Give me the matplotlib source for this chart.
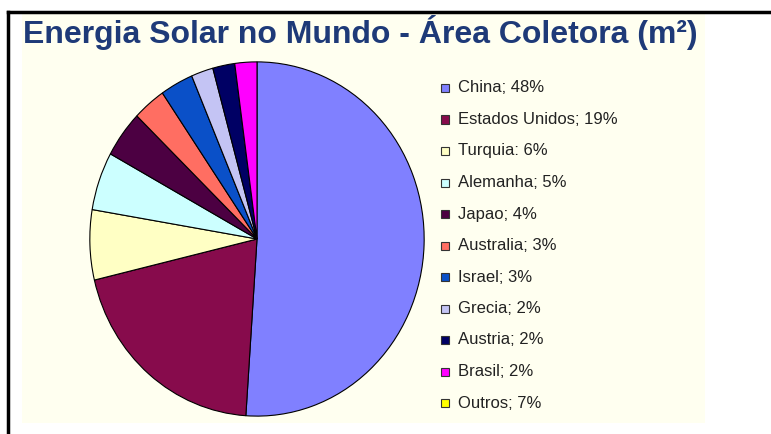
import matplotlib.pyplot as plt
from matplotlib.patches import Rectangle
from matplotlib.lines import Line2D

# data
countries = ['China', 'Estados Unidos', 'Turquia', 'Alemanha', 'Japao',
             'Australia', 'Israel', 'Grecia', 'Austria', 'Brasil', 'Outros']
shares = [48, 19, 6, 5, 4, 3, 3, 2, 2, 2, 7]
separators = [';', ';', ':', ';', ';', ';', ';', ';', ';', ';', ';']
colors = ['#8080FF', '#870B4C', '#FFFFC4', '#CCFFFF', '#4C0042', '#FF6E62',
          '#0A50C8', '#C4C4F4', '#000064', '#FF00FF', '#FFFF00']

W, H = 771, 434
fig = plt.figure(figsize=(W / 100, H / 100), dpi=100)
fig.patch.set_facecolor('white')

def fx(px):
    return px / W

def fy(py):
    return 1 - py / H

# cream chart area
fig.patches.append(Rectangle((fx(22), fy(423)), fx(705) - fx(22), fy(14) - fy(423),
                             transform=fig.transFigure, facecolor='#FFFFF0',
                             edgecolor='none', zorder=-5))
# black frame (top and left only)
fig.add_artist(Line2D([fx(8), fx(771)], [fy(12), fy(12)], color='black', lw=2.5))
fig.add_artist(Line2D([fx(8), fx(8)], [fy(12), fy(434)], color='black', lw=2.5))

fig.text(fx(23), fy(43), 'Energia Solar no Mundo - Área Coletora (m²)',
         fontsize=23, fontweight='bold', color='#1E3A78',
         family='Liberation Sans', va='baseline', ha='left')

# pie: the "Outros" share is listed in the legend but not drawn in the pie
cx, cy, rx, ry = 257, 239, 168, 178
ax = fig.add_axes([fx(cx - rx), fy(cy + ry), (2 * rx) / W, (2 * ry) / H])
ax.set_zorder(2)
ax.pie(shares[:-1], colors=colors[:-1], startangle=90, counterclock=False,
       wedgeprops=dict(edgecolor='black', linewidth=0.8))
ax.set_aspect('auto')
ax.set_xlim(-1.005, 1.005)
ax.set_ylim(-1.005, 1.005)
ax.axis('off')

# legend
y0, dy = 88, 31.5
for i, (name, val, sep, col) in enumerate(zip(countries, shares, separators, colors)):
    y = y0 + i * dy
    fig.patches.append(Rectangle((fx(441), fy(y + 4)), 8 / W, 8 / H,
                                 transform=fig.transFigure, facecolor=col,
                                 edgecolor='#333333', lw=0.8))
    fig.text(fx(458), fy(y), f'{name}{sep} {val}%', fontsize=12,
             family='Liberation Sans', color='#222222', va='center', ha='left')

fig.savefig('out.png', dpi=100)
